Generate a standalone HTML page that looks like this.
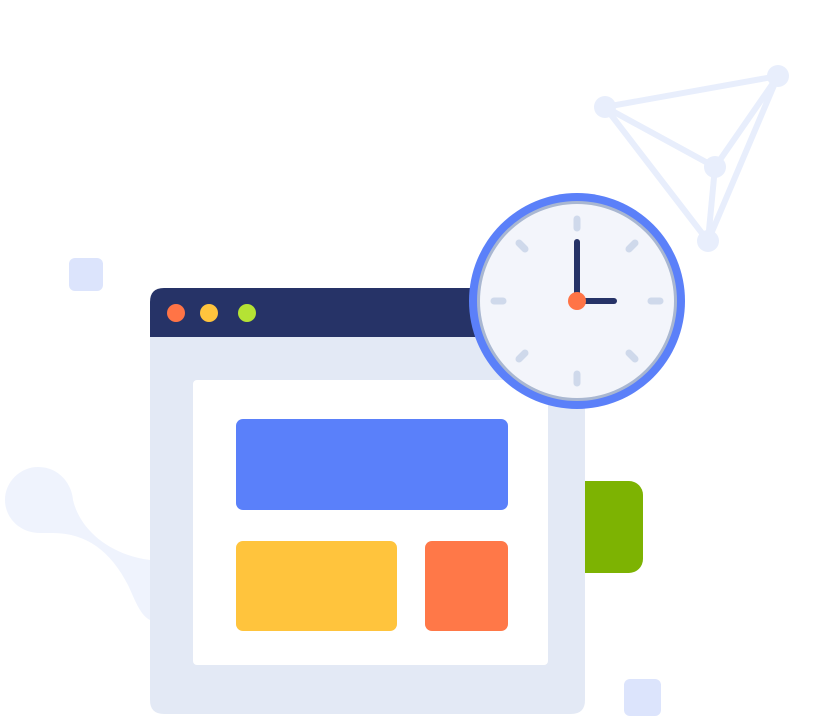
<!DOCTYPE html>
<html><head><meta charset="utf-8"><style>html,body{margin:0;padding:0;background:#fff;}svg{display:block}</style></head>
<body>
<svg width="831" height="716" viewBox="0 0 831 716" xmlns="http://www.w3.org/2000/svg">
<!-- left blob -->
<path d="M38,467 C60,467 72,485 73,500 C80,530 110,555 150,560 L150,620 C140,615 135,600 128,585 C110,550 85,532 50,533 L40,533 C20,533 5,518 5,500 C5,482 20,467 38,467 Z" fill="#eff3fd"/>
<!-- network triangle -->
<g stroke="#e8eefc" stroke-width="6" stroke-linecap="round" fill="none">
<line x1="605" y1="107" x2="778" y2="76"/>
<line x1="605" y1="107" x2="715" y2="167"/>
<line x1="605" y1="107" x2="708" y2="241"/>
<line x1="778" y1="76" x2="715" y2="167"/>
<line x1="778" y1="76" x2="708" y2="241"/>
<line x1="715" y1="167" x2="708" y2="241"/>
</g>
<g fill="#e8eefc"><circle cx="605" cy="107" r="11"/><circle cx="778" cy="76" r="11"/><circle cx="715" cy="167" r="11"/><circle cx="708" cy="241" r="11"/></g>
<!-- squares -->
<rect x="69" y="258" width="34" height="33" rx="6" fill="#dce4fc"/>
<rect x="624" y="679" width="37" height="37" rx="6" fill="#dce4fc"/>
<!-- green tab -->
<rect x="560" y="481" width="83" height="92" rx="14" fill="#7db302"/>
<!-- window -->
<path d="M150,337 L585,337 L585,700 Q585,714 571,714 L164,714 Q150,714 150,700 Z" fill="#e3e9f5"/>
<path d="M150,337 L150,302 Q150,288 164,288 L585,288 L585,337 Z" fill="#263367"/>
<circle cx="176" cy="313" r="9" fill="#ff7446"/>
<circle cx="209" cy="313" r="9" fill="#ffc43d"/>
<circle cx="247" cy="313" r="9" fill="#b5e334"/>
<rect x="193" y="380" width="355" height="285" rx="4" fill="#fff"/>
<rect x="236" y="419" width="272" height="91" rx="7" fill="#5a80fa"/>
<rect x="236" y="541" width="161" height="90" rx="7" fill="#ffc43d"/>
<rect x="425" y="541" width="83" height="90" rx="7" fill="#ff7848"/>
<!-- clock -->
<circle cx="577" cy="301" r="108" fill="#5b80f9"/>
<circle cx="577" cy="301" r="100" fill="#a9b7d1"/>
<circle cx="577" cy="301" r="97" fill="#f3f5fb"/>
<g stroke="#cfd9eb" stroke-width="7" stroke-linecap="round">
<line x1="577" y1="219" x2="577" y2="228"/>
<line x1="577" y1="374" x2="577" y2="383"/>
<line x1="494" y1="301" x2="503" y2="301"/>
<line x1="651" y1="301" x2="660" y2="301"/>
<line x1="519" y1="243" x2="525" y2="249"/>
<line x1="629" y1="249" x2="635" y2="243"/>
<line x1="519" y1="359" x2="525" y2="353"/>
<line x1="629" y1="353" x2="635" y2="359"/>
</g>
<g stroke="#263367" stroke-width="6" stroke-linecap="round">
<line x1="577" y1="242" x2="577" y2="301"/>
<line x1="577" y1="301" x2="614" y2="301"/>
</g>
<circle cx="577" cy="301" r="9" fill="#ff7446"/>
</svg>
</body></html>
